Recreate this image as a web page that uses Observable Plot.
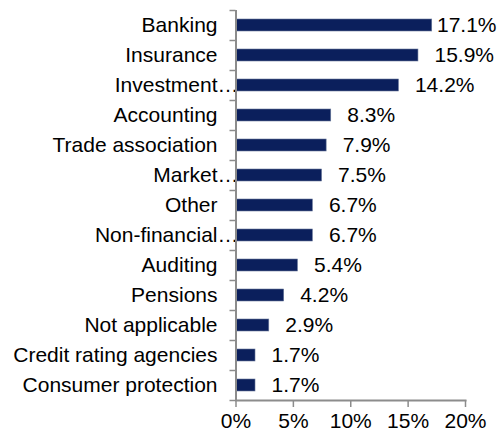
<!DOCTYPE html>
<html><head><meta charset="utf-8">
<script src="https://cdn.jsdelivr.net/npm/d3@7"></script>
<script src="https://cdn.jsdelivr.net/npm/@observablehq/plot@0.6"></script>
<style>html,body{margin:0;padding:0;background:#fff;} svg{display:block}</style>
</head><body><div id="chart"></div>
<script>
const categories = ["Banking","Insurance","Investment…","Accounting","Trade association","Market…","Other","Non-financial…","Auditing","Pensions","Not applicable","Credit rating agencies","Consumer protection"];
const values = [17.1,15.9,14.2,8.3,7.9,7.5,6.7,6.7,5.4,4.2,2.9,1.7,1.7];
const xTicks = [0,5,10,15,20];

const data = categories.map((c, i) => ({
  category: c,
  name: c.replace("…", ""),
  truncated: c.endsWith("…"),
  value: values[i]
}));
const lastCat = categories[categories.length - 1];
const axisGray = "#8c8c8c";
// labels that would run past the right edge are pulled in to end at the edge
const fits = d => d.value < 17;

const chart = Plot.plot({
  width: 500,
  height: 439,
  marginTop: 10,
  marginBottom: 39,
  marginLeft: 235.5,
  marginRight: 35,
  style: {fontFamily: "'Liberation Sans', Arial, sans-serif", fontSize: "21px", color: "#000", background: "#fff", overflow: "visible"},
  x: {domain: [0, 20], ticks: xTicks, label: null},
  y: {domain: categories, padding: 0, label: null},
  marks: [
    Plot.barX(data, {x: "value", y: "category", fill: "#0b1f5c", stroke: "#6b7a9c", strokeWidth: 0.6, insetTop: 9, insetBottom: 9}),
    Plot.text(data.filter(fits), {x: "value", y: "category", text: d => d.value.toFixed(1) + "%", textAnchor: "start", dx: 16, fill: "#000"}),
    Plot.text(data.filter(d => !fits(d)), {y: "category", frameAnchor: "right", text: d => d.value.toFixed(1) + "%", textAnchor: "end", dx: 31, fill: "#000"}),
    Plot.text(data, {y: "category", frameAnchor: "left", text: "name", textAnchor: "end", dx: -18.5, fill: "#000"}),
    Plot.text(data.filter(d => d.truncated), {y: "category", frameAnchor: "left", text: () => "…", textAnchor: "start", dx: -18.5, fill: "#000"}),
    Plot.axisY({ticks: categories, tickSize: 6, tickFormat: () => "", label: null, dy: -15, stroke: axisGray, strokeWidth: 1.5}),
    Plot.axisY({ticks: [lastCat], tickSize: 6, tickFormat: () => "", label: null, dy: 15, stroke: axisGray, strokeWidth: 1.5}),
    Plot.ruleX([0], {stroke: axisGray, strokeWidth: 2}),
    Plot.frame({anchor: "bottom", stroke: axisGray, strokeWidth: 2}),
    Plot.axisX({ticks: xTicks, tickFormat: d => d + "%", label: null, tickSize: 7, tickPadding: 6, stroke: axisGray, strokeWidth: 1.5, fill: "#000"})
  ]
});
document.getElementById("chart").appendChild(chart);
</script>
</body></html>
